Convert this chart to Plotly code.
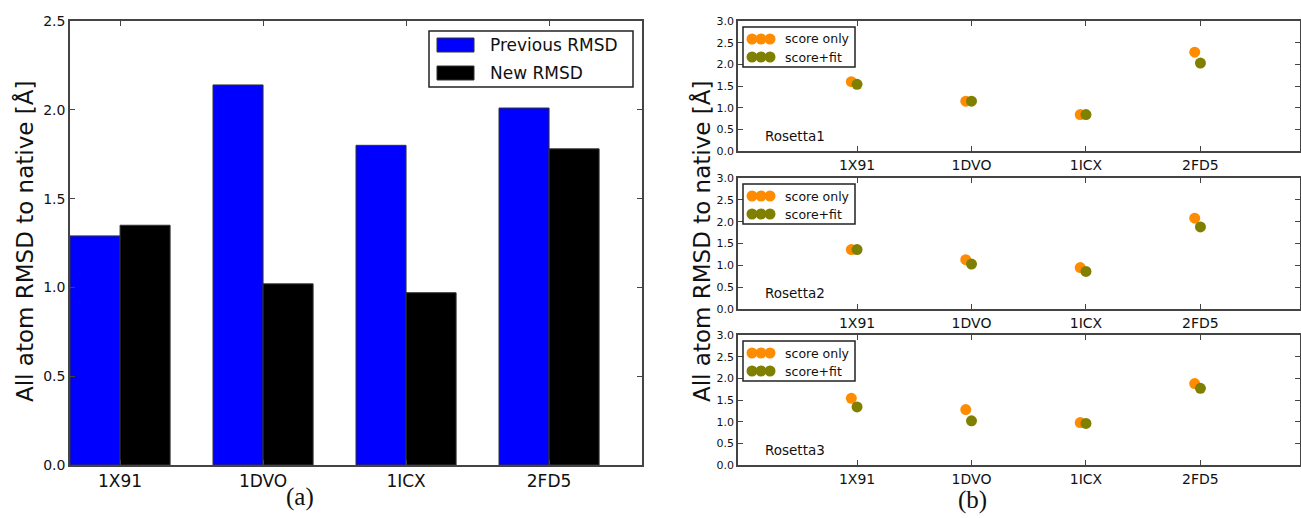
import plotly.graph_objects as go

# ---- data -------------------------------------------------------------
proteins = ["1X91", "1DVO", "1ICX", "2FD5"]

# panel (a): all-atom RMSD to native
previous_rmsd = [1.29, 2.14, 1.80, 2.01]
new_rmsd = [1.35, 1.02, 0.97, 1.78]

# panel (b): three Rosetta runs, score only vs. score+fit
rosetta_names = ["Rosetta1", "Rosetta2", "Rosetta3"]
rosetta1_score_only = [1.60, 1.15, 0.84, 2.28]
rosetta1_score_fit = [1.54, 1.15, 0.84, 2.03]
rosetta2_score_only = [1.36, 1.13, 0.95, 2.08]
rosetta2_score_fit = [1.36, 1.03, 0.86, 1.88]
rosetta3_score_only = [1.54, 1.28, 0.98, 1.88]
rosetta3_score_fit = [1.34, 1.02, 0.96, 1.77]

bar_ticks = [0.0, 0.5, 1.0, 1.5, 2.0, 2.5]
dot_ticks = [0.0, 0.5, 1.0, 1.5, 2.0, 2.5, 3.0]

# ---- styling ----------------------------------------------------------
W, H = 1301, 518
FONT = "DejaVu Sans"
SERIF = "Liberation Serif"
AXIS_COLOR = "#444444"
BLUE = "#0000ff"
BLACK = "#000000"
ORANGE = "#ff8c00"
OLIVE = "#808000"
DOT = 11


def fx(px):
    return px / W


def fy(py):
    return 1 - py / H


fig = go.Figure()

# ---- panel (a): grouped bars -----------------------------------------
fig.add_trace(go.Bar(x=proteins, y=previous_rmsd, name="Previous RMSD",
                     marker=dict(color=BLUE, line=dict(color="#333333", width=1)),
                     xaxis="x", yaxis="y", showlegend=False))
fig.add_trace(go.Bar(x=proteins, y=new_rmsd, name="New RMSD",
                     marker=dict(color=BLACK, line=dict(color="#333333", width=1)),
                     xaxis="x", yaxis="y", showlegend=False))

axis_common = dict(showline=True, linecolor=AXIS_COLOR, linewidth=1.5,
                   mirror="ticks", ticks="inside", tickcolor=AXIS_COLOR,
                   ticklen=5, tickwidth=1, showgrid=False, zeroline=False,
                   automargin=False)

layout = dict(
    width=W, height=H, autosize=False,
    margin=dict(l=0, r=0, t=0, b=0, pad=0),
    paper_bgcolor="white", plot_bgcolor="white",
    barmode="group", bargap=0.3, bargroupgap=0,
    font=dict(family=FONT, color="#111111"),
    xaxis=dict(axis_common, domain=[fx(70), fx(642)], anchor="y",
               type="category", range=[-0.35, 3.65],
               tickfont=dict(size=17, family=FONT)),
    yaxis=dict(axis_common, domain=[fy(465), fy(21)], anchor="x",
               range=[0, 2.5], tickvals=bar_ticks, tickformat=".1f",
               tickfont=dict(size=14, family=FONT)),
)

# ---- panel (b): three stacked dot plots --------------------------------
score_only_sets = [rosetta1_score_only, rosetta2_score_only, rosetta3_score_only]
score_fit_sets = [rosetta1_score_fit, rosetta2_score_fit, rosetta3_score_fit]
panel_rows = [(21, 151), (178, 309), (335, 465)]  # top / bottom in pixels
index = list(range(len(proteins)))
shift = 0.05  # score-only dots sit slightly left of the tick

shapes = []
annotations = []

for k, (top, bottom) in enumerate(panel_rows):
    n = k + 2
    xa, ya = f"x{n}", f"y{n}"
    fig.add_trace(go.Scatter(
        x=[i - shift for i in index], y=score_only_sets[k], mode="markers",
        marker=dict(color=ORANGE, size=DOT, line=dict(width=0)),
        name="score only", xaxis=xa, yaxis=ya, showlegend=False))
    fig.add_trace(go.Scatter(
        x=index, y=score_fit_sets[k], mode="markers",
        marker=dict(color=OLIVE, size=DOT, line=dict(width=0)),
        name="score+fit", xaxis=xa, yaxis=ya, showlegend=False))

    layout[f"xaxis{n}"] = dict(axis_common, domain=[fx(738), fx(1300)],
                               anchor=ya, range=[-1.04, 3.87],
                               tickvals=index, ticktext=proteins,
                               tickfont=dict(size=14, family=FONT))
    layout[f"yaxis{n}"] = dict(axis_common, domain=[fy(bottom), fy(top)],
                               anchor=xa, range=[0, 3.0], tickvals=dot_ticks,
                               tickformat=".1f",
                               tickfont=dict(size=11, family=FONT))

    # legend box with three-dot swatches
    shapes.append(dict(type="rect", xref="paper", yref="paper",
                       x0=fx(743), x1=fx(855), y0=fy(top + 46), y1=fy(top + 6),
                       line=dict(color="#222222", width=1.5), fillcolor="white"))
    for row, (color, label) in enumerate([(ORANGE, "score only"), (OLIVE, "score+fit")]):
        cy = top + 18 + row * 18
        for cx in (752, 761, 770):
            shapes.append(dict(type="circle", xref="paper", yref="paper",
                               x0=fx(cx - DOT / 2), x1=fx(cx + DOT / 2),
                               y0=fy(cy + DOT / 2), y1=fy(cy - DOT / 2),
                               fillcolor=color, line=dict(width=0)))
        annotations.append(dict(text=label, xref="paper", yref="paper",
                                x=fx(783), y=fy(cy), xanchor="left", yanchor="middle",
                                showarrow=False, font=dict(size=12.5, family=FONT, color="#111111")))

    annotations.append(dict(text=rosetta_names[k], xref="paper", yref="paper",
                            x=fx(763), y=fy(top + 115), xanchor="left", yanchor="middle",
                            showarrow=False, font=dict(size=13.5, family=FONT, color="#111111")))

# ---- panel (a) legend --------------------------------------------------
shapes.append(dict(type="rect", xref="paper", yref="paper",
                   x0=fx(429), x1=fx(633), y0=fy(87), y1=fy(31),
                   line=dict(color="#222222", width=1.5), fillcolor="white"))
for row, (color, label) in enumerate([(BLUE, "Previous RMSD"), (BLACK, "New RMSD")]):
    cy = 45 + row * 28
    shapes.append(dict(type="rect", xref="paper", yref="paper",
                       x0=fx(437), x1=fx(474), y0=fy(cy + 7), y1=fy(cy - 7),
                       fillcolor=color, line=dict(color="#333333", width=1)))
    annotations.append(dict(text=label, xref="paper", yref="paper",
                            x=fx(488), y=fy(cy), xanchor="left", yanchor="middle",
                            showarrow=False, font=dict(size=17, family=FONT, color="#111111")))

# ---- axis titles and panel labels --------------------------------------
y_title = "All atom RMSD to native [Å]"
for cx in (25, 702):
    annotations.append(dict(text=y_title, xref="paper", yref="paper",
                            x=fx(cx), y=fy(242), textangle=-90,
                            xanchor="center", yanchor="middle", showarrow=False,
                            font=dict(size=23, family=FONT, color="#111111")))

annotations.append(dict(text="(a)", xref="paper", yref="paper", x=fx(300), y=fy(497),
                        xanchor="center", yanchor="middle", showarrow=False,
                        font=dict(size=25, family=SERIF, color="#111111")))
annotations.append(dict(text="(b)", xref="paper", yref="paper", x=fx(972), y=fy(500),
                        xanchor="center", yanchor="middle", showarrow=False,
                        font=dict(size=25, family=SERIF, color="#111111")))

layout["shapes"] = shapes
layout["annotations"] = annotations
fig.update_layout(**layout)

fig.write_html("out.html")
